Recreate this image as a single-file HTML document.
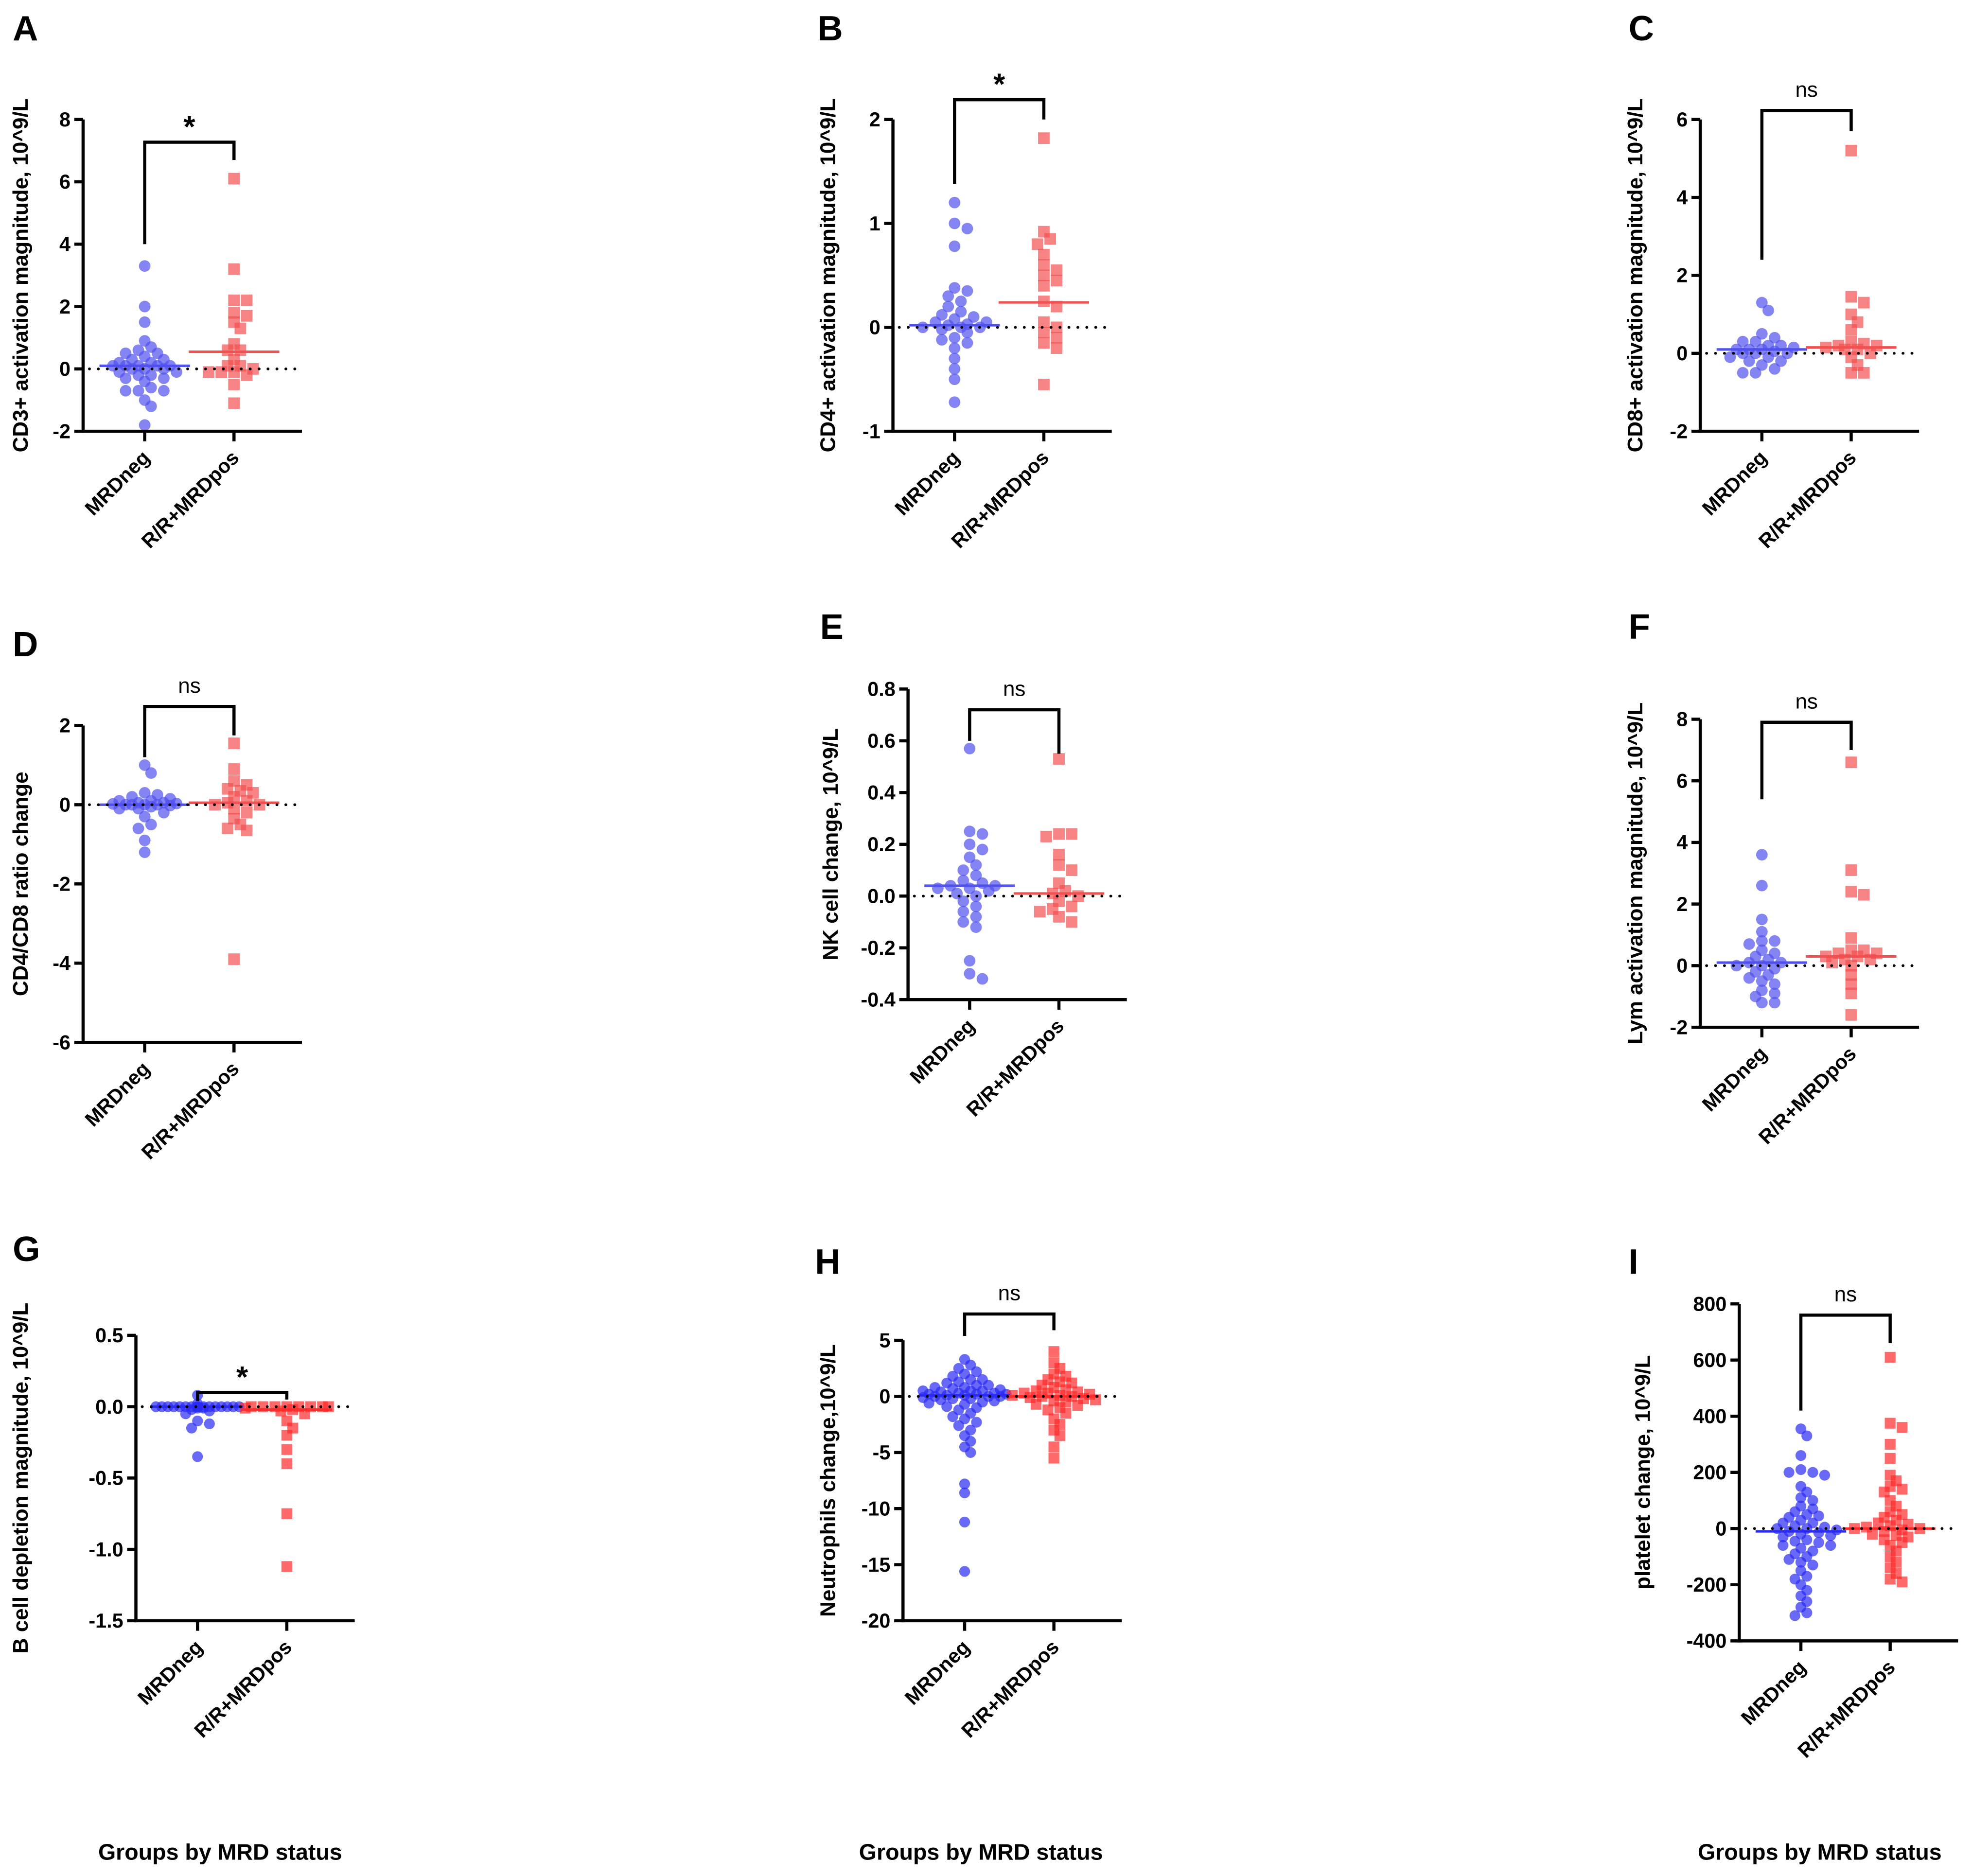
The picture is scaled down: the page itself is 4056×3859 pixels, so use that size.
<!DOCTYPE html>
<html><head><meta charset="utf-8"><style>
html,body{margin:0;padding:0;background:#fff}
svg{display:block}
text{font-family:"Liberation Sans",Arial,sans-serif;font-weight:bold;fill:#000}
</style></head><body>
<svg id="fig" width="4056" height="3859" viewBox="0 0 1568 1492" xmlns="http://www.w3.org/2000/svg"></svg>
<script>
// ---- data ----
const categories = ["MRDneg","R/R+MRDpos"];
const aNeg=[3.3,2.0,1.5,0.9,0.7,0.6,0.5,0.5,0.4,0.3,0.3,0.2,0.2,0.1,0.1,0.1,0.1,0.1,0.0,0.0,0,-0.1,-0.1,-0.2,-0.2,-0.3,-0.3,-0.4,-0.6,-0.7,-0.7,-0.7,-1.0,-1.2,-1.8];
const aPos=[6.1,3.2,2.2,2.2,1.8,1.7,1.5,1.3,0.8,0.6,0.6,0.3,0.1,0.1,0.0,-0.1,-0.1,-0.1,-0.2,-0.5,-1.1];
const bNeg=[1.2,1.0,0.95,0.78,0.38,0.35,0.3,0.25,0.2,0.15,0.12,0.1,0.05,0.05,0.03,0.02,0,0,-0.02,-0.05,-0.1,-0.12,-0.15,-0.2,-0.3,-0.4,-0.5,-0.72,0.0,0.08];
const bPos=[1.82,0.92,0.85,0.8,0.7,0.6,0.55,0.5,0.45,0.4,0.25,0.2,0.05,0.0,-0.05,-0.1,-0.15,-0.2,-0.55];
const cNeg=[1.3,1.1,0.5,0.4,0.3,0.3,0.2,0.2,0.1,0.1,0.1,0.0,0,0,-0.1,-0.1,-0.2,-0.2,-0.3,-0.4,-0.5,-0.5,0.05,0.15];
const cPos=[5.2,1.45,1.3,1.0,0.8,0.6,0.3,0.25,0.2,0.2,0.15,0.1,0.1,0.0,-0.1,-0.3,-0.5,-0.5];
const dNeg=[1.0,0.8,0.3,0.25,0.2,0.15,0.1,0.1,0.05,0.05,0,0,0,0,-0.05,-0.1,-0.1,-0.2,-0.3,-0.5,-0.6,-0.9,-1.2,0.02,0.03,-0.02];
const dPos=[1.55,0.9,0.6,0.5,0.4,0.35,0.3,0.2,0.1,0.05,0.0,-0.1,-0.2,-0.35,-0.5,-0.6,-0.65,-3.9,0.0];
const eNeg=[0.57,0.25,0.24,0.2,0.18,0.15,0.12,0.1,0.08,0.06,0.05,0.04,0.03,0.03,0.02,0.01,0,-0.02,-0.04,-0.06,-0.08,-0.1,-0.12,-0.25,-0.3,-0.32,0.04];
const ePos=[0.53,0.24,0.24,0.23,0.16,0.12,0.1,0.05,0.02,0.0,-0.02,-0.04,-0.05,-0.06,-0.08,-0.1,0.01];
const fNeg=[3.6,2.6,1.5,1.1,0.8,0.8,0.7,0.5,0.4,0.3,0.2,0.1,0.1,0,0,-0.1,-0.2,-0.3,-0.4,-0.5,-0.6,-0.8,-0.9,-1.0,-1.2,-1.2];
const fPos=[6.6,3.1,2.4,2.3,0.9,0.5,0.5,0.4,0.4,0.3,0.3,0.2,0.1,0,-0.3,-0.6,-0.9,-1.6,0.2];
const gNeg=[0.08,0.02,0,0,0,0,0,0,0,0,0,0,0,0,-0.01,-0.01,-0.02,-0.03,-0.05,-0.1,-0.12,-0.15,-0.35,0,0,0,0];
const gPos=[0,0,0,0,0,0,-0.01,-0.02,-0.03,-0.05,-0.1,-0.15,-0.2,-0.3,-0.4,-0.75,-1.12,0,0];
const hNeg=[3.3,2.8,2.5,2.2,2,1.8,1.5,1.3,1.2,1,1,0.8,0.8,0.6,0.5,0.5,0.4,0.3,0.3,0.2,0.2,0.1,0.1,0,0,0,-0.1,-0.2,-0.3,-0.4,-0.5,-0.7,-0.9,-1,-1.2,-1.5,-1.8,-2,-2.3,-2.6,-3,-3.5,-4,-4.5,-5,-7.8,-8.6,-11.2,-15.6,0.5,0.2,-0.2,-0.6,1.5,0.7];
const hPos=[4.0,3.0,2.5,2.0,1.8,1.5,1.2,1.0,0.8,0.6,0.5,0.4,0.3,0.2,0.1,0,0,-0.1,-0.2,-0.3,-0.5,-0.7,-1,-1.2,-1.5,-2,-2.5,-3,-3.5,-4.5,-5.5,0.3,-0.4,0.1,-0.8,1.3];
const iNeg=[355,330,260,210,200,200,190,150,130,110,100,80,60,50,40,30,20,10,0,0,-10,-20,-30,-40,-50,-60,-70,-80,-90,-100,-110,-120,-130,-150,-170,-180,-200,-220,-240,-260,-280,-300,-310,20,5,-15,-5,-25,45,-45,70,-60];
const iPos=[610,375,360,300,250,190,170,150,140,130,100,80,60,40,30,20,10,0,0,-10,-20,-30,-40,-50,-60,-80,-100,-120,-140,-160,-180,-190,15,-5,5,-25,50];
const medians={A:[0.1,0.55],B:[0.02,0.24],C:[0.1,0.15],D:[0,0.05],E:[0.04,0.01],F:[0.1,0.3],G:[0,-0.02],H:[0.1,0],I:[-10,0]};
const ticksA=[8,6,4,2,0,-2], ticksB=[2,1,0,-1], ticksC=[6,4,2,0,-2], ticksD=[2,0,-2,-4,-6];
const ticksE=[0.8,0.6,0.4,0.2,0.0,-0.2,-0.4], ticksF=[8,6,4,2,0,-2], ticksG=[0.5,0.0,-0.5,-1.0,-1.5];
const ticksH=[5,0,-5,-10,-15,-20], ticksI=[800,600,400,200,0,-200,-400];
const sig={A:["*",7.27,4,6.7],B:["*",2.19,1.38,2.0],C:["ns",6.23,2.4,5.7],D:["ns",2.48,1.2,1.75],E:["ns",0.72,0.6,0.55],F:["ns",7.9,5.4,7.0],G:["*",0.1,0.04,0.05],H:["ns",7.35,5.4,5.9],I:["ns",760,420,660]};

const panels=[
 {id:"A",neg:aNeg,pos:aPos,ticks:ticksA,dec:0,ax:66,yT:95,yB:343,title:"CD3+ activation magnitude, 10^9/L",tx:22,lx:10,ly:32,dark:false},
 {id:"B",neg:bNeg,pos:bPos,ticks:ticksB,dec:0,ax:710,yT:95,yB:343,title:"CD4+ activation magnitude, 10^9/L",tx:664,lx:650,ly:32,dark:false},
 {id:"C",neg:cNeg,pos:cPos,ticks:ticksC,dec:0,ax:1352,yT:95,yB:343,title:"CD8+ activation magnitude, 10^9/L",tx:1306,lx:1295,ly:32,dark:false},
 {id:"D",neg:dNeg,pos:dPos,ticks:ticksD,dec:0,ax:66,yT:577,yB:829,title:"CD4/CD8 ratio change",tx:22,lx:10,ly:522,dark:false},
 {id:"E",neg:eNeg,pos:ePos,ticks:ticksE,dec:1,ax:722,yT:548,yB:795,title:"NK cell change, 10^9/L",tx:666,lx:652,ly:508,dark:false},
 {id:"F",neg:fNeg,pos:fPos,ticks:ticksF,dec:0,ax:1352,yT:572,yB:817,title:"Lym activation magnitude, 10^9/L",tx:1306,lx:1295,ly:508,dark:false},
 {id:"G",neg:gNeg,pos:gPos,ticks:ticksG,dec:1,ax:108,yT:1062,yB:1289,title:"B cell depletion magnitude, 10^9/L",tx:22,lx:10,ly:1003,dark:true},
 {id:"H",neg:hNeg,pos:hPos,ticks:ticksH,dec:0,ax:718,yT:1066,yB:1289,title:"Neutrophils change,10^9/L",tx:664,lx:648,ly:1013,dark:true},
 {id:"I",neg:iNeg,pos:iPos,ticks:ticksI,dec:0,ax:1383,yT:1037,yB:1305,title:"platelet change, 10^9/L",tx:1312,lx:1295,ly:1013,dark:true}
];
const NS="http://www.w3.org/2000/svg";
const svg=document.getElementById('fig');
function mk(tag,attrs,parent){const e=document.createElementNS(NS,tag);for(const k in attrs)e.setAttribute(k,attrs[k]);(parent||svg).appendChild(e);return e;}
function swarm(vals,y,cx,r,maxW){
  const pts=[];const sorted=vals.map(v=>v).sort((a,b)=>b-a);
  const step=r*1.1;const n=Math.floor(maxW/step);
  sorted.forEach(v=>{const py=y(v);let best=null,bestD=-1;
    for(let k=0;k<=2*n;k++){const off=(k%2?1:-1)*Math.ceil(k/2)*step;const px=cx+off;
      let md=Infinity;pts.forEach(p=>{md=Math.min(md,Math.hypot(p[0]-px,p[1]-py));});
      if(md>=r*1.5){best=px;bestD=md;break;}
      if(md>bestD){bestD=md;best=px;}}
    pts.push([best,py]);});
  return pts;
}
panels.forEach(P=>{
  const g=mk('g',{});
  
  
  const t0=P.ticks[0],t1=P.ticks[P.ticks.length-1];
  const y=v=>P.yT+(t0-v)/(t0-t1)*(P.yB-P.yT);
  const c1=P.ax+49,c2=P.ax+120,xEnd=P.ax+174;
  const lab=mk('text',{x:P.lx,y:P.ly,'font-size':28},g);lab.textContent=P.id;
  
  const r=P.dark?4.3:4.6;
  const bl=P.dark?'#2a2af5':'#5050ee', rd=P.dark?'#ff2a2a':'#f25050';
  const mw=P.dark?34:26;
  swarm(P.neg,y,c1,r,mw).forEach(p=>{const c=mk('circle',{cx:p[0],cy:p[1],r:r,fill:bl,'fill-opacity':0.7},g);
    });
  swarm(P.pos,y,c2,r,mw).forEach(p=>{const c=mk('rect',{x:p[0]-r,y:p[1]-r,width:2*r,height:2*r,fill:rd,'fill-opacity':0.7},g);
    });
  const m=medians[P.id];
  const m1=mk('line',{x1:c1-36,x2:c1+36,y1:y(m[0]),y2:y(m[0]),stroke:bl,'stroke-width':2},g);
  
  const m2=mk('line',{x1:c2-36,x2:c2+36,y1:y(m[1]),y2:y(m[1]),stroke:rd,'stroke-width':2},g);
  
  const z=mk('line',{x1:P.ax+5,x2:xEnd,y1:y(0),y2:y(0),stroke:'#000','stroke-width':2.2,'stroke-dasharray':'0.1 7','stroke-linecap':'round'},g);
  
  const ya=mk('line',{x1:P.ax,x2:P.ax,y1:P.yT,y2:P.yB+1.25,stroke:'#000','stroke-width':2.5},g);
  
  const xa=mk('line',{x1:P.ax-1.25,x2:xEnd,y1:P.yB,y2:P.yB,stroke:'#000','stroke-width':2.5},g);
  
  P.ticks.forEach(tv=>{mk('line',{x1:P.ax-7,x2:P.ax,y1:y(tv),y2:y(tv),stroke:'#000','stroke-width':2.5},g);
    const tl=mk('text',{x:P.ax-10,y:y(tv)+5.5,'font-size':16,'text-anchor':'end'},g);
    tl.textContent=tv.toFixed(P.dec);
    });
  [c1,c2].forEach((cx,i)=>{mk('line',{x1:cx,x2:cx,y1:P.yB,y2:P.yB+8,stroke:'#000','stroke-width':2.5},g);
    const cl=mk('text',{x:cx+5,y:P.yB+22,'font-size':16,'text-anchor':'end',transform:`rotate(-45 ${cx+5} ${P.yB+22})`},g);
    cl.textContent=categories[i];
    });
  const yt=mk('text',{x:P.tx,y:(P.yT+P.yB)/2,'font-size':17,'text-anchor':'middle',transform:`rotate(-90 ${P.tx} ${(P.yT+P.yB)/2})`},g);
  yt.textContent=P.title;
  const s=sig[P.id];
  const br=mk('path',{d:`M${c1} ${y(s[2])} V${y(s[1])} H${c2} V${y(s[3])}`,fill:'none',stroke:'#000','stroke-width':2.5},g);
  
  const st=mk('text',{x:(c1+c2)/2,y:y(s[1])-(s[0]=='*'?4:11),'font-size':s[0]=='*'?24:17,'text-anchor':'middle'},g);
  st.setAttribute('style','font-weight:'+(s[0]=='*'?'bold':'normal'));
  st.textContent=s[0];
});
[175,780,1447].forEach(x=>{const t=mk('text',{x:x,y:1479,'font-size':18,'text-anchor':'middle'});
  t.textContent="Groups by MRD status";
  });
</script>
</body></html>
